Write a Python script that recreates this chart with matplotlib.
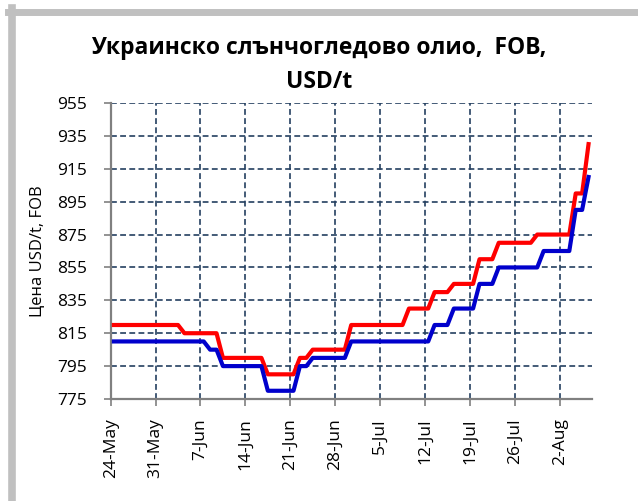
import datetime as dt
import matplotlib
matplotlib.use("Agg")
import matplotlib.pyplot as plt
from matplotlib.lines import Line2D

plt.rcParams["font.family"] = ["Open Sans", "DejaVu Sans"]

# vertices of the two price lines (value held between listed dates)
red_dates = ["2020-05-24", "2020-06-03", "2020-06-04", "2020-06-09", "2020-06-10",
             "2020-06-16", "2020-06-17", "2020-06-21", "2020-06-22", "2020-06-23",
             "2020-06-24", "2020-06-29", "2020-06-30", "2020-07-08", "2020-07-09",
             "2020-07-12", "2020-07-13", "2020-07-15", "2020-07-16", "2020-07-19",
             "2020-07-20", "2020-07-22", "2020-07-23", "2020-07-28", "2020-07-29",
             "2020-08-03", "2020-08-04", "2020-08-05", "2020-08-06"]
red_vals = [820, 820, 815, 815, 800,
            800, 790, 790, 800, 800,
            805, 805, 820, 820, 830,
            830, 840, 840, 845, 845,
            860, 860, 870, 870, 875,
            875, 900, 900, 930]

blue_dates = ["2020-05-24", "2020-06-07", "2020-06-08", "2020-06-09", "2020-06-10",
              "2020-06-16", "2020-06-17", "2020-06-21", "2020-06-22", "2020-06-23",
              "2020-06-24", "2020-06-29", "2020-06-30", "2020-07-12", "2020-07-13",
              "2020-07-15", "2020-07-16", "2020-07-19", "2020-07-20", "2020-07-22",
              "2020-07-23", "2020-07-29", "2020-07-30", "2020-08-03", "2020-08-04",
              "2020-08-05", "2020-08-06"]
blue_vals = [810, 810, 805, 805, 795,
             795, 780, 780, 795, 795,
             800, 800, 810, 810, 820,
             820, 830, 830, 845, 845,
             855, 855, 865, 865, 890,
             890, 910]

tick_dates = ["2020-05-24", "2020-05-31", "2020-06-07", "2020-06-14", "2020-06-21",
              "2020-06-28", "2020-07-05", "2020-07-12", "2020-07-19", "2020-07-26",
              "2020-08-02"]
tick_labels = ["24-May", "31-May", "7-Jun", "14-Jun", "21-Jun", "28-Jun",
               "5-Jul", "12-Jul", "19-Jul", "26-Jul", "2-Aug"]
y_ticks = [775, 795, 815, 835, 855, 875, 895, 915, 935, 955]

title = "Украинско слънчогледово олио,  FOB,\nUSD/t"
ylabel = "Цена USD/t, FOB"


def to_dt(s):
    return dt.datetime.strptime(s, "%Y-%m-%d")


# points sit in the middle of each day slot (Excel "between tick marks")
half = dt.timedelta(hours=12)
red_x = [to_dt(d) + half for d in red_dates]
blue_x = [to_dt(d) + half for d in blue_dates]

fig = plt.figure(figsize=(6.38, 5.01), dpi=100)
ax = fig.add_axes([0.1735, 0.2036, 0.754, 0.5908])

ax.plot(red_x, red_vals, color="#ff0000", lw=3, zorder=3)
ax.plot(blue_x, blue_vals, color="#0000cc", lw=3, zorder=3)

ax.set_xlim(to_dt("2020-05-24"), to_dt("2020-08-07"))
ax.set_ylim(775, 955)
ax.set_yticks(y_ticks)
ax.set_xticks([to_dt(d) for d in tick_dates])
ax.set_xticklabels(tick_labels, rotation=90)

ax.grid(True, color="#243f60", lw=1.2, linestyle=(0, (3.5, 2)))
ax.set_axisbelow(True)

for side in ["top", "right"]:
    ax.spines[side].set_visible(False)
for side in ["left", "bottom"]:
    ax.spines[side].set_color("#808080")
    ax.spines[side].set_linewidth(1.6)
ax.tick_params(direction="out", length=5, width=1.2, color="#808080",
               labelsize=12.5)
ax.tick_params(axis="y", pad=12)
ax.tick_params(axis="x", pad=9)

ax.set_ylabel(ylabel, fontsize=12, labelpad=8)
fig.text(0.5, 0.928, title, ha="center", va="top", fontsize=16.5,
         fontweight="bold", linespacing=1.55)

# light grey frame of the chart area (only top and left are in view)
fig.add_artist(Line2D([8 / 638, 1], [1 - 11.5 / 501] * 2, color="#c0c0c0",
                      lw=5, transform=fig.transFigure))
fig.add_artist(Line2D([12 / 638] * 2, [0, 1 - 8 / 501], color="#c0c0c0",
                      lw=5.5, transform=fig.transFigure))

fig.savefig("out.png", dpi=100)
